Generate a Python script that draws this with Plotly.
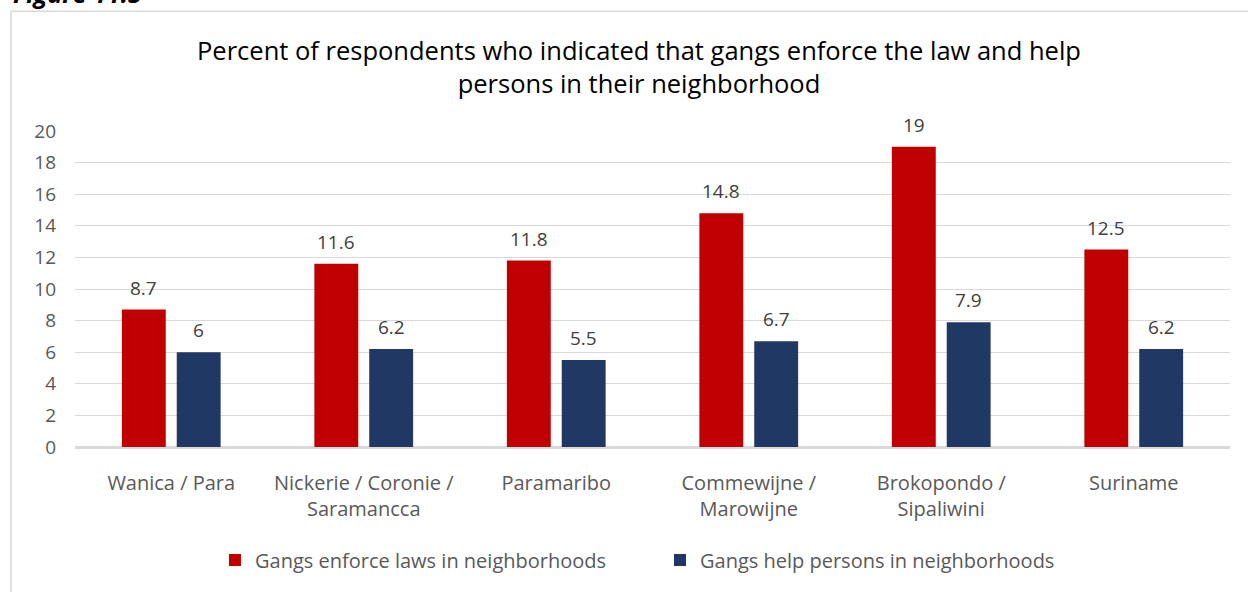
import plotly.graph_objects as go

categories = ["Wanica / Para", "Nickerie / Coronie /<br>Saramancca", "Paramaribo",
              "Commewijne /<br>Marowijne", "Brokopondo /<br>Sipaliwini", "Suriname"]
enforce = [8.7, 11.6, 11.8, 14.8, 19, 12.5]
helpp = [6, 6.2, 5.5, 6.7, 7.9, 6.2]
series_names = ["Gangs enforce laws in neighborhoods", "Gangs help persons in neighborhoods"]
colors = ["#C00000", "#1F3864"]
title_text = "Percent of respondents who indicated that gangs enforce the law and help<br>persons in their neighborhood"

FONT = "Open Sans"
W, H = 1248, 592
ML, MR, MT, MB = 75, 18, 131, 142
pw = W - ML - MR
ph = H - MT - MB

def px_x(p):
    return (p - ML) / pw

def px_y(p):
    return 1 + (MT - p) / ph

fig = go.Figure()
for name, vals, col in zip(series_names, [enforce, helpp], colors):
    fig.add_trace(go.Bar(x=categories, y=vals, name=name, marker=dict(color=col, line=dict(width=0))))

# data labels
for vals, shift in [(enforce, -27.5), (helpp, 27.5)]:
    for c, v in zip(categories, vals):
        fig.add_annotation(x=c, y=v, text=f"{v:g}", showarrow=False, xshift=shift,
                           yanchor="bottom", yshift=7,
                           font=dict(family=FONT, size=19, color="#404040"))

fig.add_annotation(xref="paper", yref="paper", x=px_x(11), y=px_y(11), xanchor="left", yanchor="bottom",
                   text="<b><i>Figure 11.5</i></b>", showarrow=False,
                   font=dict(family=FONT, size=25, color="#000000"))

fig.add_shape(type="rect", xref="paper", yref="paper", x0=px_x(11), y0=px_y(700), x1=px_x(1400), y1=px_y(10),
              line=dict(color="#d9d9d9", width=1.5), fillcolor="rgba(0,0,0,0)", layer="below")

fig.update_layout(
    width=W, height=H,
    margin=dict(l=ML, r=MR, t=MT, b=MB),
    paper_bgcolor="white", plot_bgcolor="white",
    barmode="group", bargap=0.43, bargroupgap=0.2,
    title=dict(text=title_text, x=639 / W, xanchor="center", y=1 - 60 / H, yanchor="middle",
               font=dict(family=FONT, size=25.5, color="#000000")),
    legend=dict(orientation="h", x=px_x(660), xanchor="center", y=px_y(564), yanchor="middle",
                font=dict(family=FONT, size=20, color="#595959"), traceorder="normal",
                entrywidth=400, entrywidthmode="pixels", itemwidth=30),
    font=dict(family=FONT),
)
fig.update_yaxes(range=[0, 20], dtick=2, showgrid=True, gridcolor="#d9d9d9", gridwidth=1.3,
                 zeroline=True, zerolinecolor="#d9d9d9", zerolinewidth=1.5,
                 tickfont=dict(family=FONT, size=19, color="#595959"), ticklabelstandoff=18, fixedrange=True)
fig.update_xaxes(tickfont=dict(family=FONT, size=20, color="#595959"), ticklabelstandoff=17,
                 showline=True, linecolor="#d9d9d9", linewidth=1.5, tickangle=0, fixedrange=True)

fig.write_html("out.html", post_script="document.body.style.margin='0';",
               config={"displayModeBar": False})
